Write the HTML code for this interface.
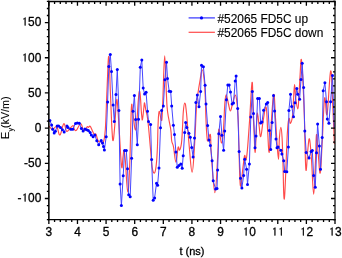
<!DOCTYPE html><html><head><meta charset="utf-8"><style>html,body{margin:0;padding:0;background:#fff;width:342px;height:258px;overflow:hidden}svg{display:block}text{font-family:"Liberation Sans",Arial,sans-serif;fill:#000;stroke:#000;stroke-width:0.3px}</style></head><body>
<svg width="342" height="258" viewBox="0 0 342 258">
<path fill="none" stroke="#ff2a2a" stroke-width="1.15" stroke-opacity="0.85" stroke-linejoin="round" d="M48.60 126.00C48.82 126.20 48.92 126.34 49.70 127.00C50.48 127.66 51.36 129.30 52.50 129.30C53.64 129.30 54.46 127.38 55.40 127.00C56.34 126.62 56.28 125.82 57.20 127.40C58.12 128.98 58.68 135.64 60.00 134.90C61.32 134.16 62.48 124.44 63.80 123.70C65.12 122.96 65.38 130.26 66.60 131.20C67.82 132.14 68.60 129.52 69.90 128.40C71.20 127.28 72.22 125.48 73.10 125.60C73.98 125.72 73.64 128.06 74.30 129.00C74.96 129.94 75.10 131.34 76.40 130.30C77.70 129.26 79.34 123.68 80.80 123.80C82.26 123.92 82.42 130.30 83.70 130.90C84.98 131.50 86.24 127.48 87.20 126.80C88.16 126.12 87.92 127.62 88.50 127.50C89.08 127.38 89.30 125.52 90.10 126.20C90.90 126.88 91.68 129.26 92.50 130.90C93.32 132.54 93.50 133.70 94.20 134.40C94.90 135.10 95.18 133.00 96.00 134.40C96.82 135.80 97.36 140.00 98.30 141.40C99.24 142.80 99.76 141.06 100.70 141.40C101.64 141.74 102.08 145.44 103.00 143.10C103.92 140.76 104.50 140.32 105.30 129.70C106.10 119.08 106.30 104.66 107.00 90.00C107.70 75.34 108.10 55.40 108.80 56.40C109.50 57.40 109.86 80.28 110.50 95.00C111.14 109.72 111.46 120.90 112.00 130.00C112.54 139.10 112.64 141.50 113.20 140.50C113.76 139.50 114.16 132.72 114.80 125.00C115.44 117.28 115.84 105.90 116.40 101.90C116.96 97.90 116.98 98.38 117.60 105.00C118.22 111.62 118.70 122.60 119.50 135.00C120.30 147.40 120.90 162.60 121.60 167.00C122.30 171.40 122.52 160.26 123.00 157.00C123.48 153.74 123.54 150.10 124.00 150.70C124.46 151.30 124.54 151.74 125.30 160.00C126.06 168.26 126.90 191.60 127.80 192.00C128.70 192.40 129.08 178.90 129.80 162.00C130.52 145.10 130.76 116.90 131.40 107.50C132.04 98.10 132.08 110.70 133.00 115.00C133.92 119.30 134.74 133.70 136.00 129.00C137.26 124.30 138.18 94.38 139.30 91.50C140.42 88.62 140.96 109.04 141.60 114.60C142.24 120.16 142.04 120.78 142.50 119.30C142.96 117.82 143.48 110.46 143.90 107.20C144.32 103.94 144.22 102.44 144.60 103.00C144.98 103.56 145.16 106.60 145.80 110.00C146.44 113.40 146.88 112.40 147.80 120.00C148.72 127.60 149.52 138.50 150.40 148.00C151.28 157.50 151.38 162.50 152.20 167.50C153.02 172.50 153.70 173.42 154.50 173.00C155.30 172.58 155.62 170.40 156.20 165.40C156.78 160.40 157.02 156.28 157.40 148.00C157.78 139.72 157.74 131.32 158.10 124.00C158.46 116.68 158.54 112.10 159.20 111.40C159.86 110.70 160.78 120.12 161.40 120.50C162.02 120.88 161.98 118.20 162.30 113.30C162.62 108.40 162.52 107.48 163.00 96.00C163.48 84.52 164.00 55.90 164.70 55.90C165.40 55.90 165.92 84.78 166.50 96.00C167.08 107.22 166.74 105.20 167.60 112.00C168.46 118.80 169.98 124.20 170.80 130.00C171.62 135.80 171.16 137.64 171.70 141.00C172.24 144.36 172.66 142.58 173.50 146.80C174.34 151.02 174.98 161.98 175.90 162.10C176.82 162.22 177.38 149.78 178.10 147.40C178.82 145.02 178.84 150.96 179.50 150.20C180.16 149.44 180.82 147.64 181.40 143.60C181.98 139.56 182.02 136.32 182.40 130.00C182.78 123.68 182.84 117.38 183.30 112.00C183.76 106.62 184.08 103.10 184.70 103.10C185.32 103.10 185.50 103.42 186.40 112.00C187.30 120.58 188.06 133.96 189.20 146.00C190.34 158.04 191.04 172.20 192.10 172.20C193.16 172.20 193.68 158.04 194.50 146.00C195.32 133.96 195.64 121.60 196.20 112.00C196.76 102.40 196.52 104.40 197.30 98.00C198.08 91.60 199.12 85.66 200.10 80.00C201.08 74.34 201.38 69.70 202.20 69.70C203.02 69.70 203.56 73.94 204.20 80.00C204.84 86.06 205.06 92.40 205.40 100.00C205.74 107.60 205.60 110.80 205.90 118.00C206.20 125.20 206.48 131.40 206.90 136.00C207.32 140.60 207.30 141.24 208.00 141.00C208.70 140.76 209.74 132.20 210.40 134.80C211.06 137.40 210.40 142.42 211.30 154.00C212.20 165.58 213.60 192.70 214.90 192.70C216.20 192.70 217.02 166.70 217.80 154.00C218.58 141.30 218.06 131.40 218.80 129.20C219.54 127.00 220.58 142.84 221.50 143.00C222.42 143.16 222.74 137.80 223.40 130.00C224.06 122.20 224.24 111.04 224.80 104.00C225.36 96.96 225.46 94.80 226.20 94.80C226.94 94.80 227.66 100.76 228.50 104.00C229.34 107.24 229.60 111.00 230.40 111.00C231.20 111.00 231.52 107.18 232.50 104.00C233.48 100.82 234.38 95.10 235.30 95.10C236.22 95.10 236.50 98.62 237.10 104.00C237.70 109.38 237.92 112.80 238.30 122.00C238.68 131.20 238.58 137.26 239.00 150.00C239.42 162.74 239.62 182.10 240.40 185.70C241.18 189.30 242.06 174.02 242.90 168.00C243.74 161.98 243.98 157.20 244.60 155.60C245.22 154.00 245.44 161.12 246.00 160.00C246.56 158.88 246.68 158.00 247.40 150.00C248.12 142.00 248.66 133.54 249.60 120.00C250.54 106.46 251.40 83.90 252.10 82.30C252.80 80.70 252.72 102.46 253.10 112.00C253.48 121.54 253.58 121.94 254.00 130.00C254.42 138.06 254.70 153.30 255.20 152.30C255.70 151.30 256.06 132.88 256.50 125.00C256.94 117.12 256.90 112.90 257.40 112.90C257.90 112.90 258.34 120.28 259.00 125.00C259.66 129.72 259.90 137.10 260.70 136.50C261.50 135.90 261.92 127.90 263.00 122.00C264.08 116.10 265.16 105.00 266.10 107.00C267.04 109.00 267.12 122.94 267.70 132.00C268.28 141.06 268.46 151.50 269.00 152.30C269.54 153.10 269.48 147.52 270.40 136.00C271.32 124.48 272.58 98.30 273.60 94.70C274.62 91.10 274.88 109.34 275.50 118.00C276.12 126.66 276.10 129.72 276.70 138.00C277.30 146.28 277.96 159.40 278.50 159.40C279.04 159.40 278.92 144.42 279.40 138.00C279.88 131.58 280.36 127.30 280.90 127.30C281.44 127.30 281.70 131.46 282.10 138.00C282.50 144.54 282.44 147.90 282.90 160.00C283.36 172.10 283.52 203.70 284.40 198.50C285.28 193.30 286.38 149.94 287.30 134.00C288.22 118.06 288.38 120.92 289.00 118.80C289.62 116.68 289.70 123.96 290.40 123.40C291.10 122.84 291.86 121.08 292.50 116.00C293.14 110.92 293.18 104.28 293.60 98.00C294.02 91.72 294.18 84.60 294.60 84.60C295.02 84.60 295.06 93.14 295.70 98.00C296.34 102.86 297.18 108.90 297.80 108.90C298.42 108.90 298.34 104.78 298.80 98.00C299.26 91.22 299.60 82.74 300.10 75.00C300.60 67.26 300.76 58.30 301.30 59.30C301.84 60.30 302.20 68.86 302.80 80.00C303.40 91.14 303.88 103.00 304.30 115.00C304.72 127.00 304.56 128.94 304.90 140.00C305.24 151.06 305.42 168.30 306.00 170.30C306.58 172.30 307.10 156.24 307.80 150.00C308.50 143.76 308.76 137.10 309.50 139.10C310.24 141.10 310.66 148.98 311.50 160.00C312.34 171.02 312.90 194.20 313.70 194.20C314.50 194.20 314.94 171.92 315.50 160.00C316.06 148.08 315.94 135.60 316.50 134.60C317.06 133.60 317.54 147.38 318.30 155.00C319.06 162.62 319.50 175.70 320.30 172.70C321.10 169.70 321.44 154.88 322.30 140.00C323.16 125.12 323.64 103.48 324.60 98.30C325.56 93.12 325.90 119.52 327.10 114.10C328.30 108.68 329.52 74.02 330.60 71.20C331.68 68.38 331.74 85.44 332.50 100.00C333.26 114.56 334.02 135.20 334.40 144.00"/>
<polyline fill="none" stroke="#4545ff" stroke-width="1" stroke-linejoin="round" points="49.9,120.4 51.6,125.0 52.7,129.3 54.2,133.0 55.4,131.2 57.2,126.0 58.6,126.0 60.5,127.4 62.4,129.8 64.2,132.1 67.0,126.0 68.0,127.4 70.8,129.3 72.7,129.3 75.5,123.5 77.3,122.9 79.3,123.3 81.4,128.5 83.1,131.1 84.9,129.1 86.6,129.7 88.4,130.6 90.1,132.6 91.3,135.0 93.1,136.7 94.8,135.0 96.8,140.8 98.7,144.7 101.2,140.5 102.5,143.0 103.5,146.5 104.4,150.0 106.2,136.8 107.6,102.0 108.8,66.5 110.3,54.4 111.5,71.5 113.1,105.0 114.3,121.5 116.0,94.5 117.3,69.4 118.9,110.4 120.1,184.0 121.4,205.6 123.2,175.8 124.6,150.5 126.3,150.5 127.5,168.8 128.7,194.8 130.2,196.8 131.6,158.3 133.0,111.3 134.4,95.4 135.6,119.6 137.3,144.7 138.5,119.2 140.3,67.2 141.8,60.1 143.2,88.1 144.6,94.1 146.1,92.3 147.5,111.3 148.5,121.5 150.6,124.4 151.6,159.6 153.2,200.2 154.6,197.9 156.5,183.3 157.6,185.3 159.0,168.0 160.5,127.7 161.6,110.6 163.3,106.1 164.9,79.7 166.5,62.2 167.5,78.4 169.2,91.3 170.7,91.6 171.7,106.1 173.4,125.3 174.5,134.5 175.9,151.9 177.3,167.3 179.0,165.4 180.8,164.0 182.2,168.2 183.2,155.8 184.7,132.4 185.7,122.5 186.8,127.6 188.9,133.3 190.3,137.3 191.7,147.4 193.1,157.0 194.5,138.0 195.9,102.6 197.3,95.1 199.0,106.8 200.6,91.6 201.5,65.3 203.4,66.7 205.1,85.3 206.0,104.0 207.6,125.6 209.0,140.1 210.4,145.4 212.1,160.7 213.2,180.8 215.6,189.0 217.0,188.5 217.6,170.1 218.8,133.8 220.5,116.5 221.9,135.2 223.6,150.2 224.7,131.0 226.4,99.8 227.8,85.0 229.2,85.0 230.5,92.0 232.1,104.0 233.5,103.0 235.2,81.1 236.1,76.0 237.7,108.6 239.1,151.6 240.5,178.3 241.9,187.9 243.6,175.5 244.7,159.3 246.6,169.2 247.5,184.4 249.4,164.0 250.8,116.9 252.3,91.6 253.5,113.6 255.0,147.7 256.0,136.1 257.6,98.4 259.4,98.4 260.6,123.0 262.0,122.1 263.6,110.2 266.3,104.0 267.7,102.5 269.3,130.5 270.7,149.5 272.1,122.5 273.5,95.5 274.6,111.0 276.0,139.0 277.0,147.7 278.1,147.1 280.9,150.3 281.9,154.1 283.7,160.8 284.7,171.4 286.8,171.8 288.4,147.1 288.9,110.5 290.5,94.2 291.7,106.6 293.5,116.7 295.0,102.7 296.8,88.4 297.8,94.2 299.6,99.2 301.0,79.5 302.2,63.2 303.6,87.5 304.8,131.0 306.2,152.4 309.0,158.0 311.1,151.4 312.3,150.6 313.6,175.6 315.3,187.2 316.5,152.8 317.6,124.0 319.4,146.0 320.5,169.3 322.2,137.4 323.2,90.8 324.9,82.8 326.5,101.8 327.3,119.0 328.9,123.2 330.6,101.8 332.5,75.4 334.2,128.0"/>
<g fill="#0000ff"><circle cx="49.9" cy="120.4" r="1.5"/><circle cx="51.6" cy="125.0" r="1.5"/><circle cx="52.7" cy="129.3" r="1.5"/><circle cx="54.2" cy="133.0" r="1.5"/><circle cx="55.4" cy="131.2" r="1.5"/><circle cx="57.2" cy="126.0" r="1.5"/><circle cx="58.6" cy="126.0" r="1.5"/><circle cx="60.5" cy="127.4" r="1.5"/><circle cx="62.4" cy="129.8" r="1.5"/><circle cx="64.2" cy="132.1" r="1.5"/><circle cx="67.0" cy="126.0" r="1.5"/><circle cx="68.0" cy="127.4" r="1.5"/><circle cx="70.8" cy="129.3" r="1.5"/><circle cx="72.7" cy="129.3" r="1.5"/><circle cx="75.5" cy="123.5" r="1.5"/><circle cx="77.3" cy="122.9" r="1.5"/><circle cx="79.3" cy="123.3" r="1.5"/><circle cx="81.4" cy="128.5" r="1.5"/><circle cx="83.1" cy="131.1" r="1.5"/><circle cx="84.9" cy="129.1" r="1.5"/><circle cx="86.6" cy="129.7" r="1.5"/><circle cx="88.4" cy="130.6" r="1.5"/><circle cx="90.1" cy="132.6" r="1.5"/><circle cx="91.3" cy="135.0" r="1.5"/><circle cx="93.1" cy="136.7" r="1.5"/><circle cx="94.8" cy="135.0" r="1.5"/><circle cx="96.8" cy="140.8" r="1.5"/><circle cx="98.7" cy="144.7" r="1.5"/><circle cx="101.2" cy="140.5" r="1.5"/><circle cx="102.5" cy="143.0" r="1.5"/><circle cx="103.5" cy="146.5" r="1.5"/><circle cx="104.4" cy="150.0" r="1.5"/><circle cx="106.2" cy="136.8" r="1.5"/><circle cx="107.6" cy="102.0" r="1.5"/><circle cx="108.8" cy="66.5" r="1.5"/><circle cx="110.3" cy="54.4" r="1.5"/><circle cx="111.5" cy="71.5" r="1.5"/><circle cx="113.1" cy="105.0" r="1.5"/><circle cx="114.3" cy="121.5" r="1.5"/><circle cx="116.0" cy="94.5" r="1.5"/><circle cx="117.3" cy="69.4" r="1.5"/><circle cx="118.9" cy="110.4" r="1.5"/><circle cx="120.1" cy="184.0" r="1.5"/><circle cx="121.4" cy="205.6" r="1.5"/><circle cx="123.2" cy="175.8" r="1.5"/><circle cx="124.6" cy="150.5" r="1.5"/><circle cx="126.3" cy="150.5" r="1.5"/><circle cx="127.5" cy="168.8" r="1.5"/><circle cx="128.7" cy="194.8" r="1.5"/><circle cx="130.2" cy="196.8" r="1.5"/><circle cx="131.6" cy="158.3" r="1.5"/><circle cx="133.0" cy="111.3" r="1.5"/><circle cx="134.4" cy="95.4" r="1.5"/><circle cx="135.6" cy="119.6" r="1.5"/><circle cx="137.3" cy="144.7" r="1.5"/><circle cx="138.5" cy="119.2" r="1.5"/><circle cx="140.3" cy="67.2" r="1.5"/><circle cx="141.8" cy="60.1" r="1.5"/><circle cx="143.2" cy="88.1" r="1.5"/><circle cx="144.6" cy="94.1" r="1.5"/><circle cx="146.1" cy="92.3" r="1.5"/><circle cx="147.5" cy="111.3" r="1.5"/><circle cx="148.5" cy="121.5" r="1.5"/><circle cx="150.6" cy="124.4" r="1.5"/><circle cx="151.6" cy="159.6" r="1.5"/><circle cx="153.2" cy="200.2" r="1.5"/><circle cx="154.6" cy="197.9" r="1.5"/><circle cx="156.5" cy="183.3" r="1.5"/><circle cx="157.6" cy="185.3" r="1.5"/><circle cx="159.0" cy="168.0" r="1.5"/><circle cx="160.5" cy="127.7" r="1.5"/><circle cx="161.6" cy="110.6" r="1.5"/><circle cx="163.3" cy="106.1" r="1.5"/><circle cx="164.9" cy="79.7" r="1.5"/><circle cx="166.5" cy="62.2" r="1.5"/><circle cx="167.5" cy="78.4" r="1.5"/><circle cx="169.2" cy="91.3" r="1.5"/><circle cx="170.7" cy="91.6" r="1.5"/><circle cx="171.7" cy="106.1" r="1.5"/><circle cx="173.4" cy="125.3" r="1.5"/><circle cx="174.5" cy="134.5" r="1.5"/><circle cx="175.9" cy="151.9" r="1.5"/><circle cx="177.3" cy="167.3" r="1.5"/><circle cx="179.0" cy="165.4" r="1.5"/><circle cx="180.8" cy="164.0" r="1.5"/><circle cx="182.2" cy="168.2" r="1.5"/><circle cx="183.2" cy="155.8" r="1.5"/><circle cx="184.7" cy="132.4" r="1.5"/><circle cx="185.7" cy="122.5" r="1.5"/><circle cx="186.8" cy="127.6" r="1.5"/><circle cx="188.9" cy="133.3" r="1.5"/><circle cx="190.3" cy="137.3" r="1.5"/><circle cx="191.7" cy="147.4" r="1.5"/><circle cx="193.1" cy="157.0" r="1.5"/><circle cx="194.5" cy="138.0" r="1.5"/><circle cx="195.9" cy="102.6" r="1.5"/><circle cx="197.3" cy="95.1" r="1.5"/><circle cx="199.0" cy="106.8" r="1.5"/><circle cx="200.6" cy="91.6" r="1.5"/><circle cx="201.5" cy="65.3" r="1.5"/><circle cx="203.4" cy="66.7" r="1.5"/><circle cx="205.1" cy="85.3" r="1.5"/><circle cx="206.0" cy="104.0" r="1.5"/><circle cx="207.6" cy="125.6" r="1.5"/><circle cx="209.0" cy="140.1" r="1.5"/><circle cx="210.4" cy="145.4" r="1.5"/><circle cx="212.1" cy="160.7" r="1.5"/><circle cx="213.2" cy="180.8" r="1.5"/><circle cx="215.6" cy="189.0" r="1.5"/><circle cx="217.0" cy="188.5" r="1.5"/><circle cx="217.6" cy="170.1" r="1.5"/><circle cx="218.8" cy="133.8" r="1.5"/><circle cx="220.5" cy="116.5" r="1.5"/><circle cx="221.9" cy="135.2" r="1.5"/><circle cx="223.6" cy="150.2" r="1.5"/><circle cx="224.7" cy="131.0" r="1.5"/><circle cx="226.4" cy="99.8" r="1.5"/><circle cx="227.8" cy="85.0" r="1.5"/><circle cx="229.2" cy="85.0" r="1.5"/><circle cx="230.5" cy="92.0" r="1.5"/><circle cx="232.1" cy="104.0" r="1.5"/><circle cx="233.5" cy="103.0" r="1.5"/><circle cx="235.2" cy="81.1" r="1.5"/><circle cx="236.1" cy="76.0" r="1.5"/><circle cx="237.7" cy="108.6" r="1.5"/><circle cx="239.1" cy="151.6" r="1.5"/><circle cx="240.5" cy="178.3" r="1.5"/><circle cx="241.9" cy="187.9" r="1.5"/><circle cx="243.6" cy="175.5" r="1.5"/><circle cx="244.7" cy="159.3" r="1.5"/><circle cx="246.6" cy="169.2" r="1.5"/><circle cx="247.5" cy="184.4" r="1.5"/><circle cx="249.4" cy="164.0" r="1.5"/><circle cx="250.8" cy="116.9" r="1.5"/><circle cx="252.3" cy="91.6" r="1.5"/><circle cx="253.5" cy="113.6" r="1.5"/><circle cx="255.0" cy="147.7" r="1.5"/><circle cx="256.0" cy="136.1" r="1.5"/><circle cx="257.6" cy="98.4" r="1.5"/><circle cx="259.4" cy="98.4" r="1.5"/><circle cx="260.6" cy="123.0" r="1.5"/><circle cx="262.0" cy="122.1" r="1.5"/><circle cx="263.6" cy="110.2" r="1.5"/><circle cx="266.3" cy="104.0" r="1.5"/><circle cx="267.7" cy="102.5" r="1.5"/><circle cx="269.3" cy="130.5" r="1.5"/><circle cx="270.7" cy="149.5" r="1.5"/><circle cx="272.1" cy="122.5" r="1.5"/><circle cx="273.5" cy="95.5" r="1.5"/><circle cx="274.6" cy="111.0" r="1.5"/><circle cx="276.0" cy="139.0" r="1.5"/><circle cx="277.0" cy="147.7" r="1.5"/><circle cx="278.1" cy="147.1" r="1.5"/><circle cx="280.9" cy="150.3" r="1.5"/><circle cx="281.9" cy="154.1" r="1.5"/><circle cx="283.7" cy="160.8" r="1.5"/><circle cx="284.7" cy="171.4" r="1.5"/><circle cx="286.8" cy="171.8" r="1.5"/><circle cx="288.4" cy="147.1" r="1.5"/><circle cx="288.9" cy="110.5" r="1.5"/><circle cx="290.5" cy="94.2" r="1.5"/><circle cx="291.7" cy="106.6" r="1.5"/><circle cx="293.5" cy="116.7" r="1.5"/><circle cx="295.0" cy="102.7" r="1.5"/><circle cx="296.8" cy="88.4" r="1.5"/><circle cx="297.8" cy="94.2" r="1.5"/><circle cx="299.6" cy="99.2" r="1.5"/><circle cx="301.0" cy="79.5" r="1.5"/><circle cx="302.2" cy="63.2" r="1.5"/><circle cx="303.6" cy="87.5" r="1.5"/><circle cx="304.8" cy="131.0" r="1.5"/><circle cx="306.2" cy="152.4" r="1.5"/><circle cx="309.0" cy="158.0" r="1.5"/><circle cx="311.1" cy="151.4" r="1.5"/><circle cx="312.3" cy="150.6" r="1.5"/><circle cx="313.6" cy="175.6" r="1.5"/><circle cx="315.3" cy="187.2" r="1.5"/><circle cx="316.5" cy="152.8" r="1.5"/><circle cx="317.6" cy="124.0" r="1.5"/><circle cx="319.4" cy="146.0" r="1.5"/><circle cx="320.5" cy="169.3" r="1.5"/><circle cx="322.2" cy="137.4" r="1.5"/><circle cx="323.2" cy="90.8" r="1.5"/><circle cx="324.9" cy="82.8" r="1.5"/><circle cx="326.5" cy="101.8" r="1.5"/><circle cx="327.3" cy="119.0" r="1.5"/><circle cx="328.9" cy="123.2" r="1.5"/><circle cx="330.6" cy="101.8" r="1.5"/><circle cx="332.5" cy="75.4" r="1.5"/></g>
<path d="M48.10 1.45H335.60" stroke="#000" stroke-width="1.4"/>
<path d="M48.10 219.60H335.60" stroke="#000" stroke-width="1.4"/>
<path d="M48.85 0.75V220.30" stroke="#000" stroke-width="1.55"/>
<path d="M335.00 0.75V220.30" stroke="#000" stroke-width="1.2"/>
<path d="M48.85 219.60v4.4M48.85 1.45v4.4M54.57 219.60v2.5M54.57 1.45v2.5M60.30 219.60v2.5M60.30 1.45v2.5M66.02 219.60v2.5M66.02 1.45v2.5M71.74 219.60v2.5M71.74 1.45v2.5M77.47 219.60v4.4M77.47 1.45v4.4M83.19 219.60v2.5M83.19 1.45v2.5M88.91 219.60v2.5M88.91 1.45v2.5M94.63 219.60v2.5M94.63 1.45v2.5M100.36 219.60v2.5M100.36 1.45v2.5M106.08 219.60v4.4M106.08 1.45v4.4M111.80 219.60v2.5M111.80 1.45v2.5M117.53 219.60v2.5M117.53 1.45v2.5M123.25 219.60v2.5M123.25 1.45v2.5M128.97 219.60v2.5M128.97 1.45v2.5M134.69 219.60v4.4M134.69 1.45v4.4M140.42 219.60v2.5M140.42 1.45v2.5M146.14 219.60v2.5M146.14 1.45v2.5M151.86 219.60v2.5M151.86 1.45v2.5M157.59 219.60v2.5M157.59 1.45v2.5M163.31 219.60v4.4M163.31 1.45v4.4M169.03 219.60v2.5M169.03 1.45v2.5M174.76 219.60v2.5M174.76 1.45v2.5M180.48 219.60v2.5M180.48 1.45v2.5M186.20 219.60v2.5M186.20 1.45v2.5M191.92 219.60v4.4M191.92 1.45v4.4M197.65 219.60v2.5M197.65 1.45v2.5M203.37 219.60v2.5M203.37 1.45v2.5M209.09 219.60v2.5M209.09 1.45v2.5M214.82 219.60v2.5M214.82 1.45v2.5M220.54 219.60v4.4M220.54 1.45v4.4M226.26 219.60v2.5M226.26 1.45v2.5M231.99 219.60v2.5M231.99 1.45v2.5M237.71 219.60v2.5M237.71 1.45v2.5M243.43 219.60v2.5M243.43 1.45v2.5M249.15 219.60v4.4M249.15 1.45v4.4M254.88 219.60v2.5M254.88 1.45v2.5M260.60 219.60v2.5M260.60 1.45v2.5M266.32 219.60v2.5M266.32 1.45v2.5M272.05 219.60v2.5M272.05 1.45v2.5M277.77 219.60v4.4M277.77 1.45v4.4M283.49 219.60v2.5M283.49 1.45v2.5M289.22 219.60v2.5M289.22 1.45v2.5M294.94 219.60v2.5M294.94 1.45v2.5M300.66 219.60v2.5M300.66 1.45v2.5M306.38 219.60v4.4M306.38 1.45v4.4M312.11 219.60v2.5M312.11 1.45v2.5M317.83 219.60v2.5M317.83 1.45v2.5M323.55 219.60v2.5M323.55 1.45v2.5M329.28 219.60v2.5M329.28 1.45v2.5M335.00 219.60v4.4M335.00 1.45v4.4M48.85 219.60h-2.0M335.00 219.60h-2.0M48.85 212.56h-2.0M335.00 212.56h-2.0M48.85 205.53h-2.0M335.00 205.53h-2.0M48.85 198.49h-4.0M335.00 198.49h-4.0M48.85 191.45h-2.0M335.00 191.45h-2.0M48.85 184.41h-2.0M335.00 184.41h-2.0M48.85 177.38h-2.0M335.00 177.38h-2.0M48.85 170.34h-2.0M335.00 170.34h-2.0M48.85 163.30h-4.0M335.00 163.30h-4.0M48.85 156.27h-2.0M335.00 156.27h-2.0M48.85 149.23h-2.0M335.00 149.23h-2.0M48.85 142.19h-2.0M335.00 142.19h-2.0M48.85 135.15h-2.0M335.00 135.15h-2.0M48.85 128.12h-4.0M335.00 128.12h-4.0M48.85 121.08h-2.0M335.00 121.08h-2.0M48.85 114.04h-2.0M335.00 114.04h-2.0M48.85 107.01h-2.0M335.00 107.01h-2.0M48.85 99.97h-2.0M335.00 99.97h-2.0M48.85 92.93h-4.0M335.00 92.93h-4.0M48.85 85.90h-2.0M335.00 85.90h-2.0M48.85 78.86h-2.0M335.00 78.86h-2.0M48.85 71.82h-2.0M335.00 71.82h-2.0M48.85 64.78h-2.0M335.00 64.78h-2.0M48.85 57.75h-4.0M335.00 57.75h-4.0M48.85 50.71h-2.0M335.00 50.71h-2.0M48.85 43.67h-2.0M335.00 43.67h-2.0M48.85 36.64h-2.0M335.00 36.64h-2.0M48.85 29.60h-2.0M335.00 29.60h-2.0M48.85 22.56h-4.0M335.00 22.56h-4.0M48.85 15.52h-2.0M335.00 15.52h-2.0M48.85 8.49h-2.0M335.00 8.49h-2.0M48.85 1.45h-2.0M335.00 1.45h-2.0" stroke="#000" stroke-width="1.3" fill="none"/>
<text y="236.20" font-size="11.9"><tspan x="45.54">3</tspan></text>
<text y="236.20" font-size="11.9"><tspan x="74.16">4</tspan></text>
<text y="236.20" font-size="11.9"><tspan x="102.77">5</tspan></text>
<text y="236.20" font-size="11.9"><tspan x="131.39">6</tspan></text>
<text y="236.20" font-size="11.9"><tspan x="160.00">7</tspan></text>
<text y="236.20" font-size="11.9"><tspan x="188.62">8</tspan></text>
<text y="236.20" font-size="11.9"><tspan x="217.23">9</tspan></text>
<text y="236.20" font-size="11.9"><tspan x="243.34" style="font-family:IPAGothic,sans-serif;font-size:11px">1</tspan><tspan x="249.15">0</tspan></text>
<text y="236.20" font-size="11.9"><tspan x="271.95" style="font-family:IPAGothic,sans-serif;font-size:11px">1</tspan><tspan x="278.57" style="font-family:IPAGothic,sans-serif;font-size:11px">1</tspan></text>
<text y="236.20" font-size="11.9"><tspan x="300.57" style="font-family:IPAGothic,sans-serif;font-size:11px">1</tspan><tspan x="306.38">2</tspan></text>
<text y="236.20" font-size="11.9"><tspan x="329.18" style="font-family:IPAGothic,sans-serif;font-size:11px">1</tspan><tspan x="335.00">3</tspan></text>
<text y="26.36" font-size="11.9"><tspan x="22.25" style="font-family:IPAGothic,sans-serif;font-size:11px">1</tspan><tspan x="28.07">50</tspan></text>
<text y="61.55" font-size="11.9"><tspan x="22.25" style="font-family:IPAGothic,sans-serif;font-size:11px">1</tspan><tspan x="28.07">00</tspan></text>
<text y="96.73" font-size="11.9"><tspan x="28.07">50</tspan></text>
<text y="131.92" font-size="11.9"><tspan x="34.68">0</tspan></text>
<text y="167.10" font-size="11.9"><tspan x="24.10">-50</tspan></text>
<text y="202.29" font-size="11.9"><tspan x="17.49">-</tspan><tspan x="22.25" style="font-family:IPAGothic,sans-serif;font-size:11px">1</tspan><tspan x="28.07">00</tspan></text>
<text x="192" y="255.0" font-size="11" text-anchor="middle">t (ns)</text>
<text transform="translate(9.3,139.0) rotate(-90)" font-size="10.7" style="stroke-width:0.1px">E<tspan font-size="7.2" dy="3.2" dx="0.3">y</tspan><tspan dy="-3.2">(kV/m)</tspan></text>
<line x1="188.6" y1="17.9" x2="214.9" y2="17.9" stroke="#3333ff" stroke-width="1.2"/>
<circle cx="201.5" cy="17.9" r="1.6" fill="#0000ff"/>
<line x1="188.6" y1="32.3" x2="214.9" y2="32.3" stroke="#ff2a2a" stroke-width="1.2" stroke-opacity="0.85"/>
<text x="217.5" y="22.5" font-size="11.9" style="stroke-width:0.12px">#52065 FD5C up</text>
<text x="217.5" y="36.8" font-size="11.9" style="stroke-width:0.12px">#52065 FD5C down</text>
</svg></body></html>
